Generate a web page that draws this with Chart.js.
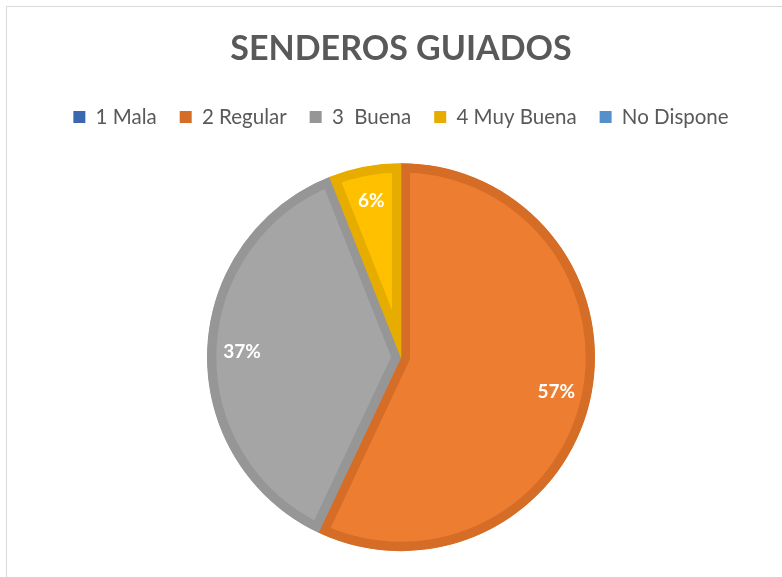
<!DOCTYPE html>
<html>
<head>
<meta charset="utf-8">
<script src="https://cdn.jsdelivr.net/npm/chart.js@4/dist/chart.umd.min.js"></script>
<style>
  body { margin: 0; background: #fff; }
  #wrap { position: absolute; left: 0; top: 0; width: 782px; height: 577px; overflow: hidden; }
  #frame { position: absolute; left: 6px; top: 6px; width: 900px; height: 700px; border: 1px solid #d9d9d9; }
  canvas { position: absolute; left: 0; top: 0; }
</style>
</head>
<body>
<div id="wrap">
  <div id="frame"></div>
  <canvas id="chart-senderos" width="782" height="577"></canvas>
</div>
<script>
// Senderos guiados - pie
const categories = ['1 Mala', '2 Regular', '3  Buena', '4 Muy Buena', 'No Dispone'];
const percentages = [0, 57, 37, 6, 0];
const fillColors = ['#4472C4', '#ED7D31', '#A5A5A5', '#FFC000', '#5B9BD5'];
const edgeColors = ['#3C66B0', '#D66D27', '#969696', '#E6AC00', '#5590CA'];

const FONT = 'Lato, "Open Sans", sans-serif';

// percent labels inside the slices
const sliceLabels = {
    id: 'sliceLabels',
    afterDatasetsDraw(chart) {
        const ctx = chart.ctx;
        const meta = chart.getDatasetMeta(0);
        ctx.save();
        ctx.fillStyle = '#ffffff';
        ctx.font = 'bold 19px ' + FONT;
        ctx.textAlign = 'center';
        ctx.textBaseline = 'middle';
        meta.data.forEach((arc, i) => {
            const v = percentages[i];
            if (!v) return;
            const p = arc.getProps(['x', 'y', 'startAngle', 'endAngle', 'outerRadius'], true);
            const mid = (p.startAngle + p.endAngle) / 2;
            const r = p.outerRadius * 0.82;
            ctx.fillText(v + '%', p.x + Math.cos(mid) * r, p.y + Math.sin(mid) * r);
        });
        ctx.restore();
    }
};

new Chart(document.getElementById('chart-senderos'), {
    type: 'pie',
    data: {
        labels: categories,
        datasets: [{
            data: percentages,
            backgroundColor: fillColors,
            borderColor: edgeColors,
            borderWidth: 9,
            borderAlign: 'inner',
            radius: 194
        }]
    },
    options: {
        responsive: false,
        animation: false,
        layout: { padding: { left: 20, top: 0, bottom: -8 } },
        plugins: {
            title: {
                display: true,
                text: 'SENDEROS GUIADOS',
                color: '#595959',
                font: { family: FONT, size: 34, weight: 'bold' },
                padding: { top: 29, bottom: 14 }
            },
            legend: {
                position: 'top',
                labels: {
                    color: '#595959',
                    font: { family: FONT, size: 20.5 },
                    boxWidth: 12,
                    boxHeight: 12,
                    padding: 23,
                    generateLabels(chart) {
                        return categories.map((c, i) => ({
                            text: c,
                            fillStyle: edgeColors[i],
                            strokeStyle: edgeColors[i],
                            lineWidth: 0,
                            fontColor: '#595959',
                            hidden: false,
                            index: i
                        }));
                    }
                }
            },
            tooltip: { enabled: false }
        }
    },
    plugins: [sliceLabels]
});
</script>
</body>
</html>
